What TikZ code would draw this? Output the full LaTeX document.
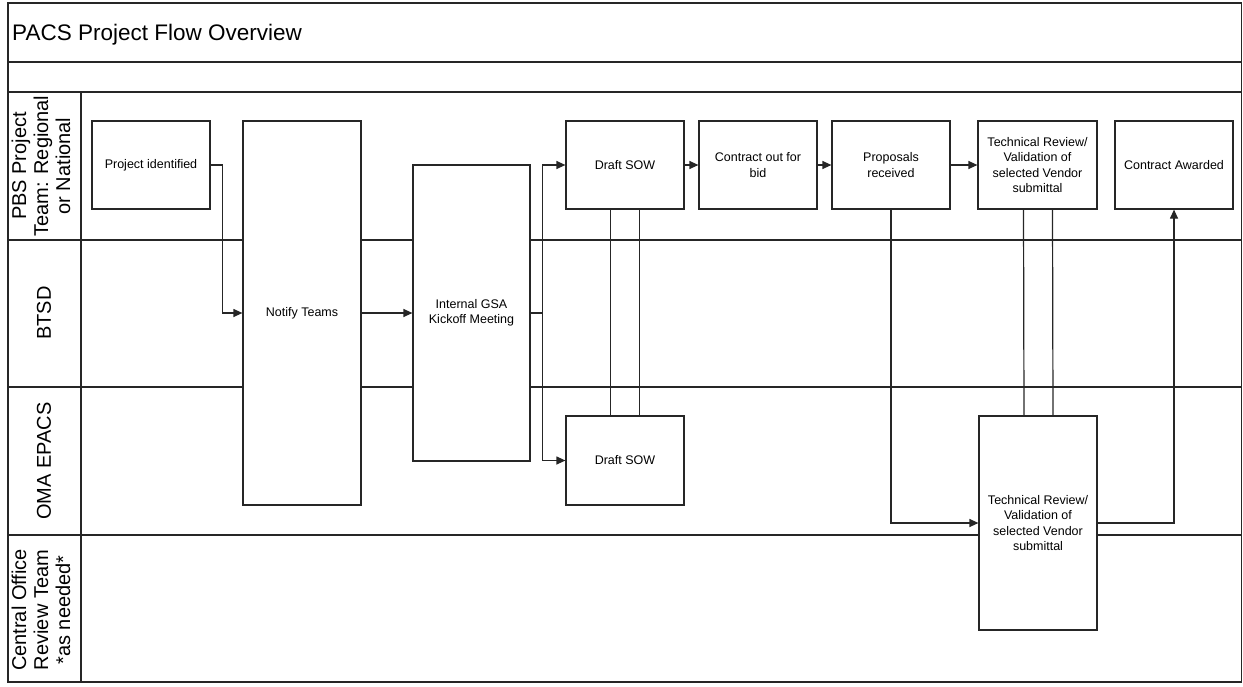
\documentclass[tikz,border=0pt]{standalone}
\usepackage{fontspec}
\setmainfont{Liberation Sans}
\usetikzlibrary{arrows.meta}
\begin{document}
\begin{tikzpicture}[x=1pt,y=-1pt,
  frame/.style={draw=black!85,line width=1.2pt},
  box/.style={draw=black!85,line width=1.2pt,fill=white,align=center,inner sep=2pt,
    font=\fontsize{12.5}{15.3}\selectfont},
  lanelabel/.style={rotate=90,align=center,font=\fontsize{20}{22}\selectfont},
  conn/.style={draw=black!85,line width=1.2pt},
  arr/.style={conn,-{Triangle[length=9pt,width=8pt]}}]
\useasboundingbox (0,0) rectangle (1243,686);
% frame and lanes
\draw[frame] (8,3) rectangle (1241.5,682);
\draw[frame] (8,62) -- (1241.5,62);
\draw[frame] (8,92) -- (1241.5,92);
\draw[frame] (8,240) -- (1241.5,240);
\draw[frame] (8,387) -- (1241.5,387);
\draw[frame] (8,535) -- (1241.5,535);
\draw[frame] (81,92) -- (81,682);
\node[anchor=base west,font=\fontsize{22.5}{25}\selectfont,inner sep=0pt] (title) at (12,40) {PACS Project Flow Overview};
\node[lanelabel] (l1) at (41,166) {PBS Project\\Team: Regional\\or National};
\node[lanelabel] (l2) at (44,313) {BTSD};
\node[lanelabel] (l3) at (44,461) {OMA EPACS};
\node[lanelabel] (l4) at (41,610) {Central Office\\Review Team\\*as needed*};
% boxes
\node[box,minimum width=118pt,minimum height=88pt] (pid) at (151,165) {Project identified};
\node[box,minimum width=118pt,minimum height=384pt] (notify) at (302,313) {Notify Teams};
\node[box,minimum width=117pt,minimum height=296pt] (kick) at (471.5,313) {Internal GSA\\Kickoff Meeting};
\node[box,minimum width=118pt,minimum height=88pt] (sowA) at (625,165) {Draft SOW};
\node[box,minimum width=118pt,minimum height=88pt] (bid) at (758,165) {Contract out for\\bid};
\node[box,minimum width=118pt,minimum height=88pt] (prop) at (891,165) {Proposals\\received};
\node[box,minimum width=119pt,minimum height=88pt] (techA) at (1037.5,165) {Technical Review/\\Validation of\\selected Vendor\\submittal};
\node[box,minimum width=118pt,minimum height=88pt] (award) at (1174,165) {Contract Awarded};
\node[box,minimum width=118pt,minimum height=89pt] (sowB) at (625,460.5) {Draft SOW};
\node[box,minimum width=118pt,minimum height=214pt] (techB) at (1038,523) {Technical Review/\\Validation of\\selected Vendor\\submittal};
% connectors
\draw[arr] (pid.east) -- ++(12,0) |- (notify.west);
\draw[arr] (notify.east) -- (kick.west);
\draw[arr] (kick.east) -- ++(12,0) |- (sowA.west);
\draw[arr] (kick.east) -- ++(12,0) |- (sowB.west);
\draw[arr] (sowA.east) -- (bid.west);
\draw[arr] (bid.east) -- (prop.west);
\draw[arr] (prop.east) -- (techA.west);
\draw[conn] ([xshift=-14.5pt]sowA.south) -- ([xshift=-14.5pt]sowB.north);
\draw[conn] ([xshift=14.5pt]sowA.south) -- ([xshift=14.5pt]sowB.north);
\draw[arr] (prop.south) |- (techB.west);
\draw[conn] ([xshift=-14pt]techA.south) -- ([xshift=-14pt]techB.north);
\draw[conn] ([xshift=15pt]techA.south) -- ([xshift=15pt]techB.north);
\draw[arr] (techB.east) -| (award.south);
\end{tikzpicture}
\end{document}
